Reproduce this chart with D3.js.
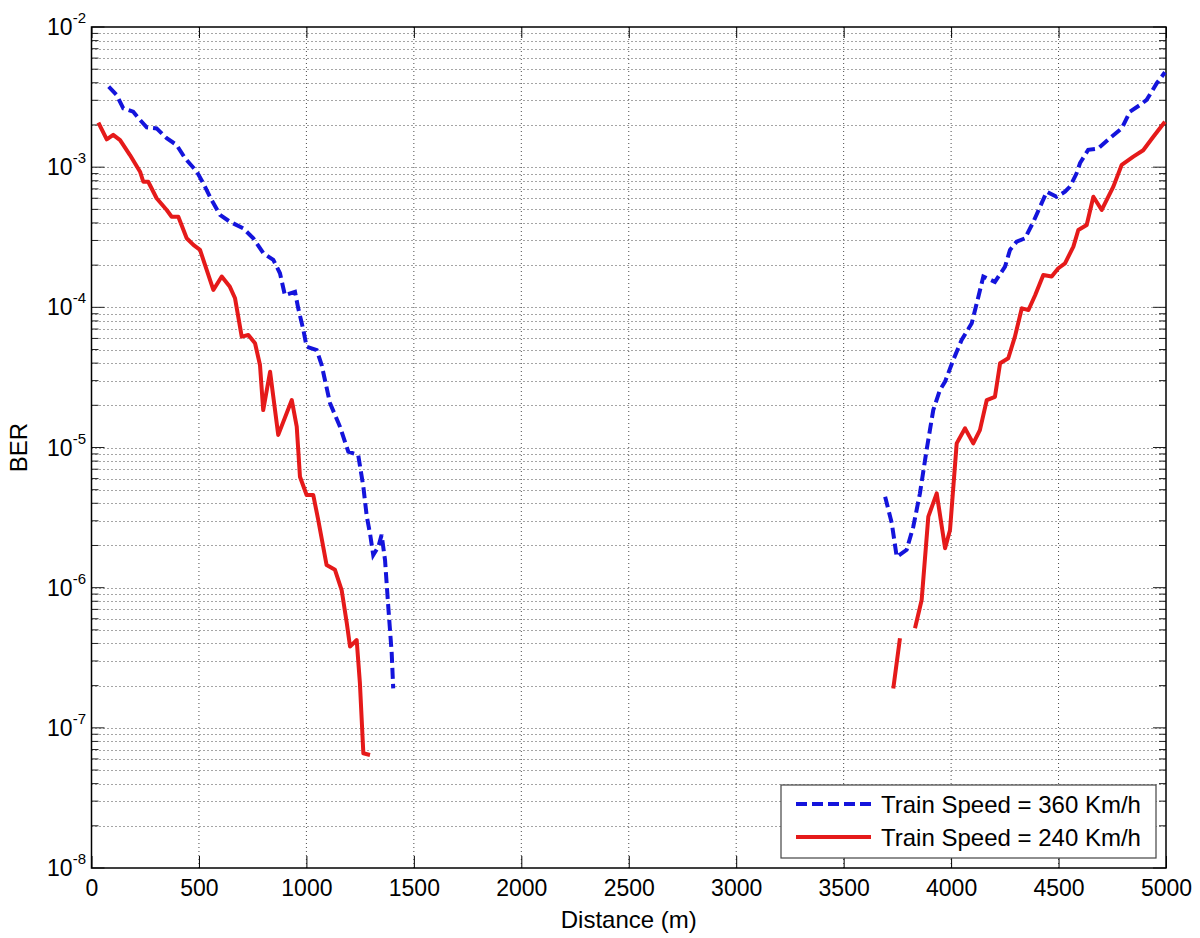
<!DOCTYPE html>
<html>
<head>
<meta charset="utf-8">
<script src="https://cdn.jsdelivr.net/npm/d3@7"></script>
<style>
  body { margin: 0; background: #fff; }
  svg { font-family: "Liberation Sans", Arial, sans-serif; }
</style>
</head>
<body>
<script>
// Data (distance in m, BER). null = gap in the curve.
const dist360 = [80, 117, 148, 194, 226, 257, 303, 350, 396, 435, 490, 520, 559, 598, 644, 706, 753, 800, 846, 877,
  900, 947, 962, 986, 1001, 1048, 1071, 1110, 1156, 1195, 1241, 1265, 1281, 1296, 1311, 1335, 1350, 1366, 1381, 1397, 1404,
  2500,
  3693, 3724, 3747, 3793, 3824, 3855, 3886, 3917, 3948, 3972, 4010, 4049, 4096, 4127, 4150, 4204, 4251, 4274, 4305, 4344,
  4383, 4445, 4491, 4530, 4553, 4584, 4600, 4638, 4685, 4739, 4794, 4832, 4879, 4910, 4957, 4995];
const ber360 = [3.75e-3, 3.27e-3, 2.63e-3, 2.49e-3, 2.17e-3, 1.92e-3, 1.89e-3, 1.61e-3, 1.44e-3, 1.16e-3,
  9.29e-4, 7.67e-4, 5.83e-4, 4.56e-4, 4.08e-4, 3.66e-4, 3.11e-4, 2.43e-4, 2.18e-4, 1.75e-4,
  1.22e-4, 1.29e-4, 9.84e-5, 6.89e-5, 5.24e-5, 4.96e-5, 3.88e-5, 2.07e-5, 1.41e-5, 9.33e-6,
  8.85e-6, 5.25e-6, 3.21e-6, 2.44e-6, 1.71e-6, 1.96e-6, 2.38e-6, 1.57e-6, 7.31e-7, 3.40e-7, 1.91e-7,
  null,
  4.46e-6, 2.88e-6, 1.66e-6, 1.86e-6, 2.72e-6, 4.71e-6, 9.60e-6, 1.85e-5, 2.57e-5, 2.95e-5,
  4.21e-5, 5.85e-5, 7.69e-5, 1.19e-4, 1.66e-4, 1.52e-4, 1.95e-4, 2.57e-4, 2.94e-4, 3.11e-4,
  4.08e-4, 6.68e-4, 6.15e-4, 6.68e-4, 7.26e-4, 9.04e-4, 1.07e-3, 1.33e-3, 1.36e-3, 1.61e-3,
  1.89e-3, 2.49e-3, 2.78e-3, 3.02e-3, 3.97e-3, 4.75e-3];

const dist240 = [32, 71, 101, 133, 179, 226, 241, 264, 303, 350, 373, 404, 443, 474, 505, 536, 567, 606, 644, 668,
  699, 730, 761, 784, 799, 831, 846, 869, 932, 955, 970, 1001, 1032, 1055, 1094, 1133, 1164, 1188, 1203, 1234,
  1249, 1265, 1296,
  2500,
  3731, 3762,
  3800,
  3832, 3863, 3894, 3933, 3972, 3995, 4026, 4065, 4103, 4134, 4166, 4204, 4228, 4266, 4297, 4329, 4360, 4391,
  4429, 4468, 4499, 4530, 4569, 4592, 4631, 4662, 4701, 4755, 4794, 4848, 4894, 4941, 4995];
const ber240 = [2.08e-3, 1.58e-3, 1.70e-3, 1.56e-3, 1.22e-3, 9.28e-4, 7.87e-4, 7.87e-4, 6.00e-4, 4.95e-4,
  4.43e-4, 4.43e-4, 3.11e-4, 2.79e-4, 2.57e-4, 1.85e-4, 1.33e-4, 1.66e-4, 1.40e-4, 1.16e-4,
  6.18e-5, 6.35e-5, 5.54e-5, 3.88e-5, 1.85e-5, 3.47e-5, 2.30e-5, 1.23e-5, 2.18e-5, 1.41e-5,
  6.19e-6, 4.58e-6, 4.58e-6, 3.04e-6, 1.45e-6, 1.34e-6, 9.62e-7, 5.57e-7, 3.80e-7, 4.23e-7,
  2.08e-7, 6.58e-8, 6.40e-8,
  null,
  1.91e-7, 4.35e-7,
  null,
  5.13e-7, 8.17e-7, 3.21e-6, 4.71e-6, 1.91e-6, 2.58e-6, 1.07e-5, 1.37e-5, 1.07e-5, 1.33e-5,
  2.18e-5, 2.30e-5, 3.99e-5, 4.33e-5, 6.18e-5, 9.84e-5, 9.57e-5, 1.22e-4, 1.70e-4, 1.66e-4,
  1.90e-4, 2.06e-4, 2.71e-4, 3.56e-4, 3.87e-4, 6.15e-4, 4.95e-4, 7.26e-4, 1.04e-3, 1.19e-3,
  1.32e-3, 1.65e-3, 2.11e-3];

const seriesNames = ["Train Speed = 360 Km/h", "Train Speed = 240 Km/h"];
const xTickValues = [0, 500, 1000, 1500, 2000, 2500, 3000, 3500, 4000, 4500, 5000];
const yTickExponents = [-8, -7, -6, -5, -4, -3, -2];

// Layout
const width = 1200;
const height = 938;
const plot = { left: 91.5, top: 27, right: 1166, bottom: 868 };
const blue = "#1414dc";
const red = "#e51a1a";

const svg = d3.select("body").append("svg")
  .attr("width", width)
  .attr("height", height);

const x = d3.scaleLinear().domain([0, 5000]).range([plot.left, plot.right]);
const y = d3.scaleLog().domain([1e-8, 1e-2]).range([plot.bottom, plot.top]);

// major + minor log values (2..9 inside each decade)
const minorValues = [];
yTickExponents.slice(0, -1).forEach(e => {
  for (let m = 2; m <= 9; m++) minorValues.push(m * Math.pow(10, e));
});
const majorValues = yTickExponents.map(e => Math.pow(10, e));

// Grid (dotted, MATLAB style)
const grid = svg.append("g")
  .attr("stroke", "#4a4a4a")
  .attr("stroke-width", 1)
  .attr("stroke-dasharray", "1,3");

grid.selectAll(".gx")
  .data(xTickValues.slice(1, -1))
  .enter().append("line")
  .attr("x1", d => x(d)).attr("x2", d => x(d))
  .attr("y1", plot.top).attr("y2", plot.bottom);

grid.selectAll(".gy")
  .data(majorValues.slice(1, -1).concat(minorValues))
  .enter().append("line")
  .attr("x1", plot.left).attr("x2", plot.right)
  .attr("y1", d => Math.round(y(d)) + 0.5).attr("y2", d => Math.round(y(d)) + 0.5);

// Axes: ticks point inward, on all four sides
const xAxis = svg.append("g")
  .attr("transform", `translate(0,${plot.bottom})`)
  .call(d3.axisBottom(x).tickValues(xTickValues).tickSize(-12).tickPadding(12).tickFormat(d3.format("d")));
xAxis.select(".domain").remove();
xAxis.selectAll("text").attr("font-size", 23).attr("fill", "#000").attr("font-family", "Liberation Sans, Arial, sans-serif");

const xAxisTop = svg.append("g")
  .attr("transform", `translate(0,${plot.top})`)
  .call(d3.axisTop(x).tickValues(xTickValues).tickSize(-11).tickFormat(""));
xAxisTop.select(".domain").remove();

function yTicks(side) {
  const dir = side === "left" ? 1 : -1;
  const x0 = side === "left" ? plot.left : plot.right;
  const g = svg.append("g").attr("stroke", "#222").attr("stroke-width", 1);
  g.selectAll(".maj").data(majorValues).enter().append("line")
    .attr("x1", x0).attr("x2", x0 + dir * 13)
    .attr("y1", d => y(d)).attr("y2", d => y(d));
  g.selectAll(".min").data(minorValues).enter().append("line")
    .attr("x1", x0).attr("x2", x0 + dir * 7)
    .attr("y1", d => y(d)).attr("y2", d => y(d));
}
yTicks("left");
yTicks("right");

// y tick labels 10^n
const yLabels = svg.append("g")
  .attr("font-family", "Liberation Sans, Arial, sans-serif")
  .attr("fill", "#000");
yTickExponents.forEach(e => {
  const t = yLabels.append("text")
    .attr("x", 86)
    .attr("y", y(Math.pow(10, e)) + 8)
    .attr("text-anchor", "end");
  t.append("tspan").attr("font-size", 23).text("10");
  t.append("tspan").attr("font-size", 15).attr("dy", -12).text(String(e));
});

// Plot box
svg.append("rect")
  .attr("x", plot.left).attr("y", plot.top)
  .attr("width", plot.right - plot.left).attr("height", plot.bottom - plot.top)
  .attr("fill", "none").attr("stroke", "#000").attr("stroke-width", 1.5);

// Curves
const line = d3.line()
  .defined(d => d[1] != null)
  .x(d => x(d[0]))
  .y(d => y(d[1]));

const pts360 = dist360.map((d, i) => [d, ber360[i]]);
const pts240 = dist240.map((d, i) => [d, ber240[i]]);

svg.append("path")
  .datum(pts240)
  .attr("d", line)
  .attr("fill", "none")
  .attr("stroke", red)
  .attr("stroke-width", 4)
  .attr("stroke-linejoin", "round");

svg.append("path")
  .datum(pts360)
  .attr("d", line)
  .attr("fill", "none")
  .attr("stroke", blue)
  .attr("stroke-width", 4)
  .attr("stroke-dasharray", "11,5");

// Axis labels
svg.append("text")
  .attr("x", (plot.left + plot.right) / 2)
  .attr("y", 928)
  .attr("text-anchor", "middle")
  .attr("font-size", 24)
  .text("Distance (m)");

svg.append("text")
  .attr("transform", `translate(27,${(plot.top + plot.bottom) / 2}) rotate(-90)`)
  .attr("text-anchor", "middle")
  .attr("font-size", 24)
  .text("BER");

// Legend
const legend = svg.append("g");
legend.append("rect")
  .attr("x", 781).attr("y", 785)
  .attr("width", 375).attr("height", 73)
  .attr("fill", "#fff").attr("stroke", "#444").attr("stroke-width", 1.2);

const legendRows = [
  { name: seriesNames[0], color: blue, dash: "11,5", y: 804 },
  { name: seriesNames[1], color: red, dash: null, y: 837 }
];
legendRows.forEach(r => {
  legend.append("line")
    .attr("x1", 796).attr("x2", 871)
    .attr("y1", r.y).attr("y2", r.y)
    .attr("stroke", r.color).attr("stroke-width", 4)
    .attr("stroke-dasharray", r.dash);
  legend.append("text")
    .attr("x", 881).attr("y", r.y + 9)
    .attr("font-size", 24)
    .text(r.name);
});
</script>
</body>
</html>
